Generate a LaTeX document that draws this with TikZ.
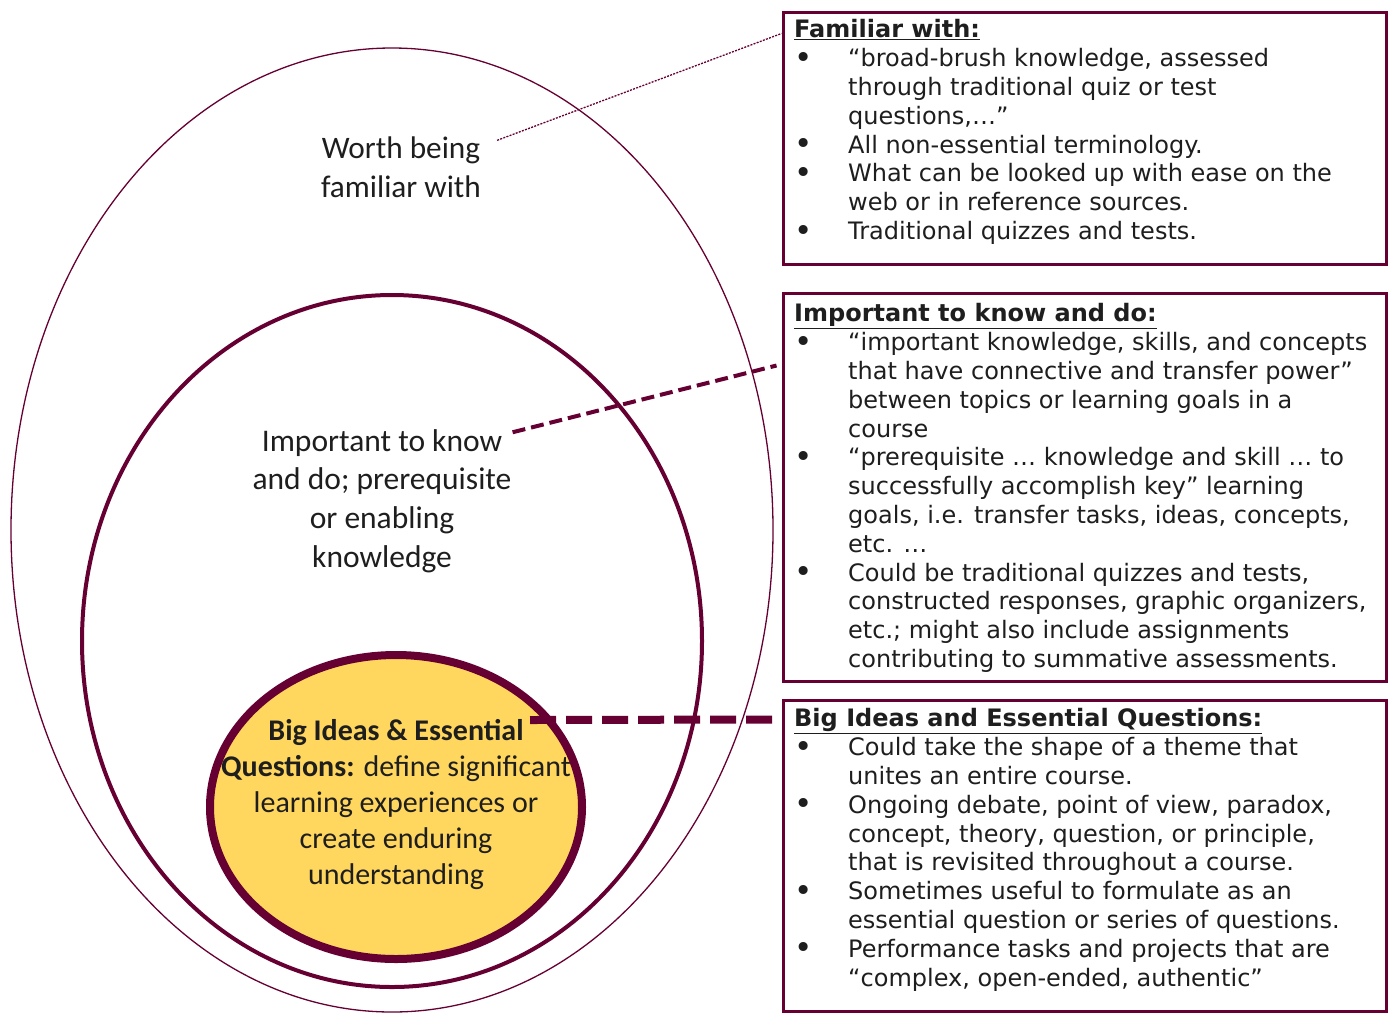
\documentclass[tikz,border=0pt]{standalone}
\usepackage{fontspec}
\setmainfont{Carlito}
\newfontfamily\boxfont{DejaVu Sans}
\usetikzlibrary{calc,shapes.geometric}
\definecolor{maroon}{HTML}{660033}
\definecolor{gold}{HTML}{FFD75E}
\definecolor{ink}{HTML}{1E1E1E}
\newcommand{\bl}{\makebox[54pt][l]{\hspace*{0pt}\raisebox{-1.5pt}{\fontsize{31}{31}\selectfont\textbullet}}}
\newcommand{\ind}{\hspace*{54pt}}
\tikzset{
  ring/.style={draw=maroon, ellipse, inner sep=0pt},
  infobox/.style={draw=maroon, line width=3pt, rectangle, inner sep=0pt, anchor=north west},
  boxtext/.style={anchor=north west, inner sep=0pt, align=left, text=ink,
    font=\boxfont\fontsize{24}{28.8}\selectfont},
  label/.style={align=center, inner sep=0pt, text=ink},
  thinlink/.style={draw=maroon, line width=1.3pt, dash pattern=on 2pt off 1.3pt},
  midlink/.style={draw=maroon, line width=4pt, dash pattern=on 13pt off 6pt},
  thicklink/.style={draw=maroon, line width=8pt, dash pattern=on 26pt off 10pt}
}
\begin{document}
\begin{tikzpicture}[x=1pt,y=-1pt]
\useasboundingbox (0,0) rectangle (1389,1013);
\fill[white] (0,0) rectangle (1389,1013);
% rings
\node[ring, line width=1.3pt, minimum width=762, minimum height=964] (outer) at (392,530) {};
\node[ring, line width=4pt, minimum width=620, minimum height=692] (middle) at (392,641) {};
\node[ring, line width=8pt, fill=gold, minimum width=372, minimum height=304] (inner) at (396,807) {};
% labels
\node[label, font=\fontsize{31.3}{39}\selectfont] (worth) at (401,167) {Worth being\\familiar with};
\node[label, font=\fontsize{31.5}{38.6}\selectfont] (imp) at (382,501) {Important to know\\and do; prerequisite\\or enabling\\knowledge};
\node[label, font=\fontsize{30}{36}\selectfont] (big) at (396,805) {\textbf{Big Ideas \& Essential}\\\textbf{Questions:} define significant\\learning experiences or\\create enduring\\understanding};
% boxes
\node[infobox, minimum width=603, minimum height=252] (box1) at (781.5,10.5) {};
\node[infobox, minimum width=603, minimum height=388] (box2) at (781.5,291.5) {};
\node[infobox, minimum width=603, minimum height=311] (box3) at (781.5,698.5) {};
% box texts
\node[boxtext] (t1) at (794,19.5) {\textbf{\underline{Familiar with:}}\\
\bl “broad-brush knowledge, assessed\\
\ind through traditional quiz or test\\
\ind questions,…”\\
\bl All non-essential terminology.\\
\bl What can be looked up with ease on the\\
\ind web or in reference sources.\\
\bl Traditional quizzes and tests.};
\node[boxtext] (t2) at (794,303.5) {\textbf{\underline{Important to know and do:}}\\
\bl “important knowledge, skills, and concepts\\
\ind that have connective and transfer power”\\
\ind between topics or learning goals in a\\
\ind course\\
\bl “prerequisite … knowledge and skill … to\\
\ind successfully accomplish key” learning\\
\ind goals, i.e. transfer tasks, ideas, concepts,\\
\ind etc. …\\
\bl Could be traditional quizzes and tests,\\
\ind constructed responses, graphic organizers,\\
\ind etc.; might also include assignments\\
\ind contributing to summative assessments.};
\node[boxtext] (t3) at (794,708.5) {\textbf{\underline{Big Ideas and Essential Questions:}}\\
\bl Could take the shape of a theme that\\
\ind unites an entire course.\\
\bl Ongoing debate, point of view, paradox,\\
\ind concept, theory, question, or principle,\\
\ind that is revisited throughout a course.\\
\bl Sometimes useful to formulate as an\\
\ind essential question or series of questions.\\
\bl Performance tasks and projects that are\\
\ind “complex, open-ended, authentic”};
% connectors
\coordinate (bstart) at (530,720);
\draw[thinlink] ($(worth.north east)+(16,4)$) -- ($(box1.north west)+(0,23)$);
\draw[midlink] ($(imp.north east)+(1,3)$) -- ($(box2.north west)+(-5,74)$);
\draw[thicklink] (bstart) -- ($(box3.north west)+(-5,21)$);
\end{tikzpicture}
\end{document}
